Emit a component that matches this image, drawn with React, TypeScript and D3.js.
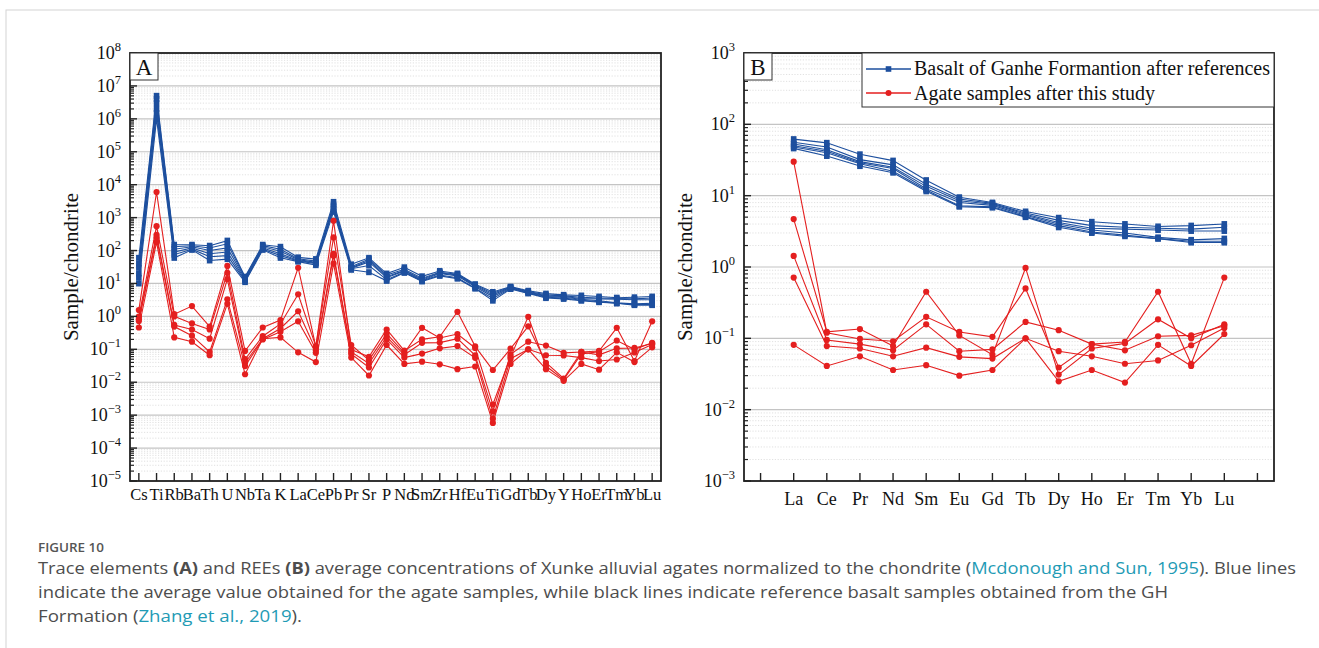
import React from 'react';
import * as d3 from 'd3';

// ---------- DATA ----------
const traceElements = ['Cs','Ti','Rb','Ba','Th','U','Nb','Ta','K','La','Ce','Pb','Pr','Sr','P','Nd','Sm','Zr','Hf','Eu','Ti','Gd','Tb','Dy','Y','Ho','Er','Tm','Yb','Lu'];
const reeElements = ['La','Ce','Pr','Nd','Sm','Eu','Gd','Tb','Dy','Ho','Er','Tm','Yb','Lu'];

// Basalt of Ganhe Formation (reference samples), chondrite-normalised, in traceElements order
const basalt1 = [60, 5e6, 150, 150, 140, 200, 16, 150, 130, 62, 55, 3000, 38, 60, 20, 31, 16.5, 24, 20, 9.5, 5.5, 8.0, 6.0, 4.9, 4.5, 4.3, 4.0, 3.7, 3.8, 4.0];
const basalt2 = [40, 4e6, 130, 140, 120, 160, 15, 140, 110, 56, 48, 2500, 32, 55, 18, 27, 14.5, 22, 19, 9.0, 5.0, 7.8, 5.7, 4.5, 4.2, 3.8, 3.6, 3.5, 3.4, 3.6];
const basalt3 = [30, 3e6, 110, 130, 100, 120, 14, 130, 95, 53, 44, 2200, 30, 50, 16, 25, 13.5, 21, 18, 8.5, 4.5, 7.6, 5.5, 4.2, 4.0, 3.5, 3.4, 3.3, 3.2, 3.2];
const basalt4 = [20, 2e6, 90, 120, 80, 90, 13, 120, 80, 50, 42, 2000, 29, 45, 15, 24, 12.5, 20, 17, 8.0, 4.0, 7.3, 5.3, 4.0, 3.8, 3.3, 3.0, 2.6, 2.4, 2.5];
const basalt5 = [15, 1.5e6, 75, 110, 65, 70, 12, 110, 70, 48, 40, 1800, 28, 35, 13, 22, 12, 18, 15, 7.2, 3.5, 7.0, 5.1, 3.8, 3.6, 3.1, 2.8, 2.5, 2.3, 2.3];
const basalt6 = [10, 1e6, 60, 105, 50, 55, 11, 105, 60, 46, 36, 1500, 26, 22, 12, 21, 11.5, 17, 14, 7.0, 3.0, 6.8, 5.0, 3.6, 3.4, 3.0, 2.7, 2.5, 2.2, 2.2];

// Agate samples (this study), chondrite-normalised, in traceElements order
const agate1 = [1.55, 6000, 1.17, 2.05, 0.49, 34, 0.089, 0.46, 0.77, 30, 0.12, 800, 0.098, 0.059, 0.40, 0.091, 0.20, 0.24, 1.38, 0.123, 0.0235, 0.105, 0.50, 0.039, 0.013, 0.083, 0.089, 0.45, 0.044, 0.71];
const agate2 = [0.98, 550, 1.0, 0.61, 0.40, 21, 0.05, 0.25, 0.59, 4.7, 0.123, 250, 0.135, 0.047, 0.30, 0.078, 0.45, 0.22, 0.29, 0.11, 0.0021, 0.059, 0.97, 0.031, 0.012, 0.072, 0.085, 0.185, 0.10, 0.157];
const agate3 = [0.82, 300, 0.55, 0.40, 0.21, 13.5, 0.039, 0.21, 0.43, 1.43, 0.095, 80, 0.083, 0.037, 0.24, 0.068, 0.157, 0.16, 0.21, 0.066, 0.0013, 0.07, 0.17, 0.13, 0.078, 0.083, 0.068, 0.107, 0.11, 0.15];
const agate4 = [0.72, 250, 0.49, 0.26, 0.083, 3.3, 0.031, 0.20, 0.34, 0.71, 0.078, 70, 0.072, 0.028, 0.20, 0.056, 0.074, 0.107, 0.126, 0.055, 0.00078, 0.052, 0.10, 0.066, 0.065, 0.056, 0.044, 0.049, 0.08, 0.14];
const agate5 = [0.46, 180, 0.23, 0.17, 0.066, 2.4, 0.0175, 0.21, 0.23, 0.081, 0.041, 40, 0.056, 0.016, 0.135, 0.036, 0.042, 0.035, 0.025, 0.030, 0.00058, 0.036, 0.10, 0.025, 0.011, 0.036, 0.024, 0.081, 0.041, 0.115];

const basaltSeries = [basalt1, basalt2, basalt3, basalt4, basalt5, basalt6];
const agateSeries = [agate1, agate2, agate3, agate4, agate5];

const expTicksA = [-5, -4, -3, -2, -1, 0, 1, 2, 3, 4, 5, 6, 7, 8];
const expTicksB = [-3, -2, -1, 0, 1, 2, 3];

const legendLabels = ['Basalt of Ganhe Formantion after references', 'Agate samples after this study'];

// ---------- STYLE ----------
const BLUE = '#1d4f9e';
const RED = '#e41f1f';
const SERIF = '"Liberation Serif", "Times New Roman", serif';
const SANS = '"Open Sans", "Noto Sans", sans-serif';

const expStr = (e: number) => (e < 0 ? '\u2212' + Math.abs(e) : String(e));

type PanelProps = {
  left: number; right: number; top: number; bottom: number;
  cats: string[]; exps: number[];
  blue: number[][]; red: number[][];
  letter: string; titleX: number; labelY: number; labelSize: number;
  legend?: boolean;
};

function Panel(p: PanelProps) {
  const keys = p.cats.map((_, i) => String(i));
  const x = d3.scalePoint<string>().domain(keys).range([p.left, p.right]).padding(0.5);
  const lo = p.exps[0], hi = p.exps[p.exps.length - 1];
  const y = d3.scaleLog().domain([Math.pow(10, lo), Math.pow(10, hi)]).range([p.bottom, p.top]);

  const minors: number[] = [];
  for (let e = lo; e < hi; e++) for (let m = 2; m <= 9; m++) minors.push(m * Math.pow(10, e));

  const idxOf = (i: number) => String(i);
  const pts = (vals: (number | null)[]) =>
    vals.map((v, i) => (v == null ? null : [x(idxOf(i)) as number, y(v)] as [number, number])).filter(Boolean) as [number, number][];
  const line = d3.line<[number, number]>().x(d => d[0]).y(d => d[1]);

  const catCenterY = (p.top + p.bottom) / 2;

  return (
    <g>
      {/* minor grid */}
      {minors.map((v, i) => (
        <line key={'mg' + i} x1={p.left} x2={p.right} y1={y(v)} y2={y(v)} stroke="#d9d9d9" strokeWidth={0.8} strokeDasharray="1.2,1.6" />
      ))}
      {/* major grid */}
      {p.exps.map(e => (
        <line key={'g' + e} x1={p.left} x2={p.right} y1={y(Math.pow(10, e))} y2={y(Math.pow(10, e))} stroke="#c4c4c4" strokeWidth={1.2} />
      ))}
      {/* basalt lines */}
      {p.blue.map((s, si) => {
        const pp = pts(s);
        return (
          <g key={'b' + si}>
            <path d={line(pp) || ''} fill="none" stroke={BLUE} strokeWidth={1.1} />
            {pp.map((q, k) => (
              <rect key={k} x={q[0] - 2.8} y={q[1] - 3} width={5.6} height={6} fill={BLUE} />
            ))}
          </g>
        );
      })}
      {/* agate lines */}
      {p.red.map((s, si) => {
        const pp = pts(s);
        return (
          <g key={'r' + si}>
            <path d={line(pp) || ''} fill="none" stroke={RED} strokeWidth={1.1} />
            {pp.map((q, k) => (
              <circle key={k} cx={q[0]} cy={q[1]} r={3.1} fill={RED} />
            ))}
          </g>
        );
      })}
      {/* frame */}
      <rect x={p.left} y={p.top} width={p.right - p.left} height={p.bottom - p.top} fill="none" stroke="#222" strokeWidth={1.8} />
      {/* y ticks */}
      {minors.map((v, i) => (
        <line key={'mt' + i} x1={p.left} x2={p.left + 4} y1={y(v)} y2={y(v)} stroke="#222" strokeWidth={1.2} />
      ))}
      {p.exps.map(e => (
        <line key={'t' + e} x1={p.left} x2={p.left + 7} y1={y(Math.pow(10, e))} y2={y(Math.pow(10, e))} stroke="#222" strokeWidth={1.4} />
      ))}
      {p.exps.map(e => (
        <text key={'tl' + e} x={p.left - 9} y={y(Math.pow(10, e)) + 6} textAnchor="end" fontFamily={SERIF} fontSize={18} fill="#111">
          10<tspan fontSize={12.5} dy={-8}>{expStr(e)}</tspan>
        </text>
      ))}
      {/* x ticks */}
      {keys.map(k => (
        <line key={'xt' + k} x1={x(k)} x2={x(k)} y1={p.bottom} y2={p.bottom - 8} stroke="#222" strokeWidth={1.4} />
      ))}
      {p.cats.map((c, i) => (
        c ? <text key={'xl' + i} x={x(String(i))} y={p.labelY} textAnchor="middle" fontFamily={SERIF} fontSize={p.labelSize} fill="#111">{c}</text> : null
      ))}
      {/* axis title */}
      <text transform={`translate(${p.titleX},${catCenterY}) rotate(-90)`} textAnchor="middle" fontFamily={SERIF} fontSize={21} fill="#111">Sample/chondrite</text>
      {/* panel letter */}
      <rect x={p.left} y={p.top} width={28} height={27} fill="#fff" stroke="#333" strokeWidth={1} />
      <text x={p.left + 14} y={p.top + 22} textAnchor="middle" fontFamily={SERIF} fontSize={23} fill="#111">{p.letter}</text>
      {p.legend && (
        <g>
          <rect x={862} y={p.top} width={p.right - 862} height={54} fill="#fff" stroke="#333" strokeWidth={1} />
          <line x1={866} x2={911} y1={69} y2={69} stroke={BLUE} strokeWidth={1.3} />
          <rect x={888.5 - 2.8} y={69 - 2.8} width={5.6} height={5.6} fill={BLUE} />
          <text x={914} y={75} fontFamily={SERIF} fontSize={20} fill="#111">{legendLabels[0]}</text>
          <line x1={866} x2={911} y1={93} y2={93} stroke={RED} strokeWidth={1.3} />
          <circle cx={888.5} cy={93} r={3} fill={RED} />
          <text x={914} y={100} fontFamily={SERIF} fontSize={20} fill="#111">{legendLabels[1]}</text>
        </g>
      )}
    </g>
  );
}

export default function App() {
  const reeIdx = reeElements.map(r => traceElements.indexOf(r));
  const catsB = ['', ...reeElements, ''];
  const toB = (s: number[]) => [null, ...reeIdx.map(i => s[i]), null] as any;
  const LINK = '#1f9bb5';
  const TXT = '#4d4d4d';
  return (
    <svg width={1319} height={648} style={{ position: 'absolute', left: 0, top: 0, background: '#fff' }}>
      <rect x={6} y={10} width={1400} height={700} fill="#fff" stroke="#d4d4d4" strokeWidth={1} />
      <Panel left={130} right={661} top={53} bottom={481} cats={traceElements} exps={expTicksA}
        blue={basaltSeries} red={agateSeries} letter="A" titleX={78} labelY={500} labelSize={16.5} />
      <Panel left={744} right={1274} top={53} bottom={481} cats={catsB} exps={expTicksB}
        blue={basaltSeries.map(toB)} red={agateSeries.map(toB)} letter="B" titleX={692} labelY={505} labelSize={18} legend />
      <text x={38} y={552} fontFamily={SANS} fontSize={12.5} fontWeight={600} fill="#555" textLength={66} lengthAdjust="spacingAndGlyphs">FIGURE 10</text>
      <text x={38} y={574} fontFamily={SANS} fontSize={16} fill={TXT} textLength={1258} lengthAdjust="spacingAndGlyphs">
        Trace elements <tspan fontWeight={700}>(A)</tspan> and REEs <tspan fontWeight={700}>(B)</tspan> average concentrations of Xunke alluvial agates normalized to the chondrite (<tspan fill={LINK}>Mcdonough and Sun, 1995</tspan>). Blue lines
      </text>
      <text x={38} y={598} fontFamily={SANS} fontSize={16} fill={TXT} textLength={1130} lengthAdjust="spacingAndGlyphs">
        indicate the average value obtained for the agate samples, while black lines indicate reference basalt samples obtained from the GH
      </text>
      <text x={38} y={622} fontFamily={SANS} fontSize={16} fill={TXT} textLength={264} lengthAdjust="spacingAndGlyphs">
        Formation (<tspan fill={LINK}>Zhang et al., 2019</tspan>).
      </text>
    </svg>
  );
}
